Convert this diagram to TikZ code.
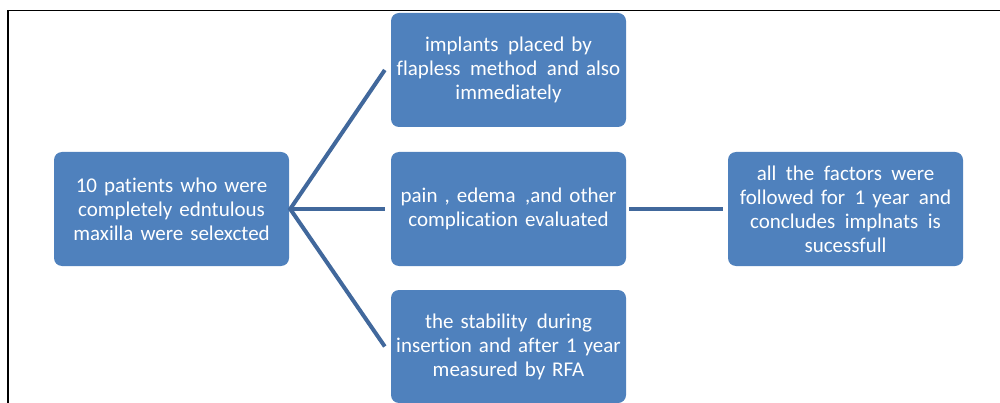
\documentclass[tikz,border=0pt]{standalone}
\usepackage{fontspec}
\setmainfont{Carlito}[Ligatures=NoCommon]
\usetikzlibrary{calc}
\definecolor{boxblue}{HTML}{4F81BD}
\definecolor{linkblue}{HTML}{41689C}
% a slightly widened word gap
\newcommand{\wgap}{\ \kern2.5pt}
\begin{document}
\begin{tikzpicture}[x=1pt,y=-1pt,
  stepbox/.style={fill=boxblue, draw=none, rounded corners=8pt,
    minimum width=235pt, minimum height=114pt, inner sep=0pt,
    text=white, align=center, text width=234pt,
    font=\fontsize{21}{24}\selectfont},
  link/.style={draw=linkblue, line width=4pt}]
  \useasboundingbox (0,0) rectangle (1000,403);
  % outer frame (open at right and bottom)
  \draw[line width=1.6pt] (8,404) -- (8,10.5) -- (1001,10.5);

  \node[stepbox] (start) at (171.5,209) {10 patients who were\\completely edntulous\\maxilla were selexcted};
  \node[stepbox] (top) at (508.5,70) {implants\wgap placed by\\flapless\wgap method\wgap and also\\immediately};
  \node[stepbox] (mid) at (508.5,209) {pain , edema\wgap ,and other\\complication evaluated};
  \node[stepbox, minimum height=113pt] (bot) at (508.5,346.5) {the stability\wgap during\\insertion and after 1 year\\measured by RFA};
  \node[stepbox] (fin) at (845.5,209) {all\wgap the\wgap factors\wgap were\\followed for\wgap 1 year\wgap and\\concludes\wgap implnats\wgap is\\sucessfull};

  \coordinate (fan) at ($(start.east)+(1pt,0)$);
  \coordinate (topin) at ($(top.west)+(-6pt,0)$);
  \coordinate (midin) at ($(mid.west)+(-6pt,0)$);
  \coordinate (botin) at ($(bot.west)+(-6pt,0)$);

  \draw[link] (topin) -- (fan) -- (botin);
  \draw[link] (fan) -- (midin);
  \draw[link, shorten <=3pt, shorten >=5pt] (mid.east) -- (fin.west);
\end{tikzpicture}
\end{document}
